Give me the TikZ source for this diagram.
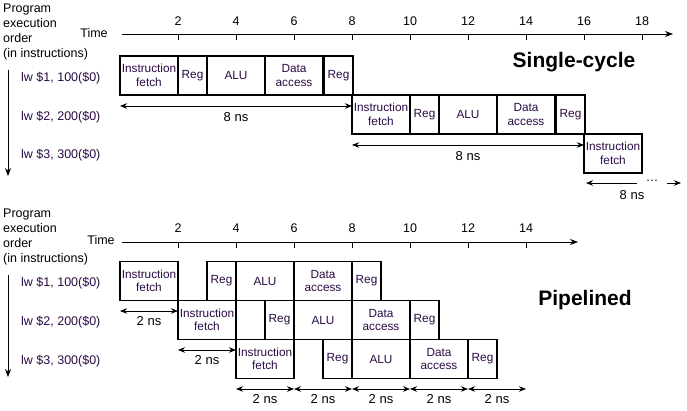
\documentclass[tikz,border=0pt]{standalone}
\usepackage{fontspec}
\setmainfont{Liberation Sans}
\usetikzlibrary{arrows.meta}
\definecolor{lbl}{HTML}{2A0A44}
\begin{document}
\begin{tikzpicture}[x=1pt,y=-1pt,
  stage/.style={draw, line width=1.5pt, minimum height=39pt, inner sep=0pt, align=center,
    font=\fontsize{11.8}{13.5}\selectfont, text=lbl},
  one/.style={stage, minimum width=29pt},
  two/.style={stage, minimum width=58pt},
  txt/.style={font=\fontsize{12.5}{15}\selectfont, inner sep=0pt},
  dtxt/.style={font=\fontsize{13}{15}\selectfont, inner sep=0pt},
  instr/.style={txt, anchor=west, text=lbl, font=\fontsize{12.5}{15}\selectfont},
  order/.style={txt, anchor=north west, align=left, font=\fontsize{12.5}{15}\selectfont},
  title/.style={inner sep=0pt, font=\fontsize{21}{24}\selectfont\bfseries},
  axis/.style={line width=0.7pt, -{Stealth[length=8pt,width=6pt]}},
  tick/.style={line width=0.7pt},
  dim/.style={line width=0.8pt, {Stealth[length=7pt,width=5.5pt]}-{Stealth[length=7pt,width=5.5pt]}},
  dimr/.style={line width=0.8pt, -{Stealth[length=7pt,width=5.5pt]}},
  diml/.style={line width=0.8pt, {Stealth[length=7pt,width=5.5pt]}-},
  down/.style={line width=0.8pt, -{Stealth[length=8pt,width=6pt]}},
]
\useasboundingbox (0,0) rectangle (687,411);

% ---------------- Single-cycle ----------------
\node[order] (ord1) at (3,4) {Program\\execution\\order\\(in instructions)};
\coordinate (v1a) at (8,70);
\coordinate (v1b) at (8,176);
\draw[down] (v1a) -- (v1b);
\node[txt] (time1) at (94,33.5) {Time};
\coordinate (ax1a) at (122,34);
\coordinate (ax1b) at (673,34);
\draw[axis] (ax1a) -- (ax1b);
\foreach \t in {2,4,...,18}{
  \coordinate (ta\t) at ({120+29*\t},34);
  \draw[tick] (ta\t) -- ++(0,6);
  \node[txt] (la\t) at ({120+29*\t},21.5) {\t};
}
\node[title] (sc) at (574,62) {Single-cycle};

\node[instr] (i11) at (21,78) {lw \$1, 100(\$0)};
\node[instr] (i12) at (21,117) {lw \$2, 200(\$0)};
\node[instr] (i13) at (21,155) {lw \$3, 300(\$0)};

\node[two] (a1) at (149,75.5) {Instruction\\fetch};
\node[one] (a2) at (192.5,75.5) {Reg};
\node[two] (a3) at (236,75.5) {ALU};
\node[two] (a4) at (294,75.5) {Data\\access};
\node[one] (a5) at (338.5,75.5) {Reg};

\node[two] (b1) at (381,114.5) {Instruction\\fetch};
\node[one] (b2) at (424.5,114.5) {Reg};
\node[two] (b3) at (468,114.5) {ALU};
\node[two] (b4) at (526,114.5) {Data\\access};
\node[one] (b5) at (570.5,114.5) {Reg};

\node[two] (c1) at (613,153.5) {Instruction\\fetch};

\coordinate (d1l) at (120,106);
\coordinate (d1r) at (352,106);
\draw[dim] (d1l) -- (d1r) node[dtxt, midway, below=6pt] (n1) {8 ns};
\coordinate (d2l) at (352,145);
\coordinate (d2r) at (584,145);
\draw[dim] (d2l) -- (d2r) node[dtxt, midway, below=6pt] (n2) {8 ns};
\coordinate (d3l) at (586,183);
\coordinate (d3m) at (637,183);
\coordinate (d3n) at (667,183);
\coordinate (d3r) at (681,183);
\draw[diml] (d3l) -- (d3m);
\node[txt] (dots) at (652,181) {\dots};
\draw[dimr] (d3n) -- (d3r);
\node[dtxt] (n3) at (632,195) {8 ns};

% ---------------- Pipelined ----------------
\node[order] (ord2) at (3,209) {Program\\execution\\order\\(in instructions)};
\coordinate (v2a) at (8,275);
\coordinate (v2b) at (8,377);
\draw[down] (v2a) -- (v2b);
\node[txt] (time2) at (101,240) {Time};
\coordinate (ax2a) at (122,242);
\coordinate (ax2b) at (578,242);
\draw[axis] (ax2a) -- (ax2b);
\foreach \t in {2,4,...,14}{
  \coordinate (tb\t) at ({120+29*\t},242);
  \draw[tick] (tb\t) -- ++(0,6);
  \node[txt] (lb\t) at ({120+29*\t},228.5) {\t};
}
\node[title] (pl) at (585,300) {Pipelined};

\node[instr] (i21) at (21,283) {lw \$1, 100(\$0)};
\node[instr] (i22) at (21,322) {lw \$2, 200(\$0)};
\node[instr] (i23) at (21,361) {lw \$3, 300(\$0)};

\node[two] (p1) at (149,281) {Instruction\\fetch};
\node[one] (p2) at (221.5,281) {Reg};
\node[two] (p3) at (265,281) {ALU};
\node[two] (p4) at (323,281) {Data\\access};
\node[one] (p5) at (366.5,281) {Reg};

\node[two] (q1) at (207,320) {Instruction\\fetch};
\node[one] (q2) at (279.5,320) {Reg};
\node[two] (q3) at (323,320) {ALU};
\node[two] (q4) at (381,320) {Data\\access};
\node[one] (q5) at (424.5,320) {Reg};

\node[two] (r1) at (265,359) {Instruction\\fetch};
\node[one] (r2) at (337.5,359) {Reg};
\node[two] (r3) at (381,359) {ALU};
\node[two] (r4) at (439,359) {Data\\access};
\node[one] (r5) at (482.5,359) {Reg};

\coordinate (e1l) at (120,311);
\coordinate (e1r) at (178,311);
\draw[dim] (e1l) -- (e1r) node[dtxt, midway, below=5pt] (m1) {2 ns};
\coordinate (e2l) at (178,350);
\coordinate (e2r) at (236,350);
\draw[dim] (e2l) -- (e2r) node[dtxt, midway, below=5pt] (m2) {2 ns};
\foreach \k in {0,...,4}{
  \coordinate (f\k l) at ({236+58*\k},389);
  \coordinate (f\k r) at ({294+58*\k},389);
  \draw[dim] (f\k l) -- (f\k r) node[dtxt, midway, below=5pt] (g\k) {2 ns};
}
\end{tikzpicture}
\end{document}
